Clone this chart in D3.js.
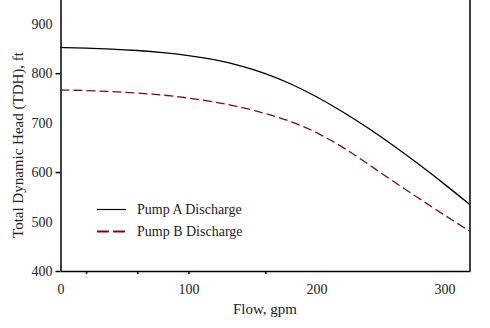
<!DOCTYPE html>
<html>
<head>
<meta charset="utf-8">
<script src="https://d3js.org/d3.v7.min.js"></script>
<style>
  body { margin: 0; background: #fff; }
  .axis path, .axis line { stroke: #000; stroke-width: 1.5; }
</style>
</head>
<body>
<script type="text/javascript">

  var flow = [0, 20, 40, 60, 80, 100, 120, 140, 160, 180, 200, 220, 240, 260, 280, 300, 320];
  var pumpA = [852, 851, 849, 846, 842, 836, 828, 816, 800, 779, 753, 723, 690, 654, 616, 576, 534];
  var pumpB = [766, 765, 763, 760, 756, 750, 742, 732, 719, 703, 681, 652, 617, 581, 547, 513, 480];
  var yTicks = [400, 500, 600, 700, 800, 900];
  var yMarks = [400, 600, 800];
  var xTicks = [0, 100, 200, 300];
  var xMarks = [20, 60, 100, 160];
  var seriesNames = ["Pump A Discharge", "Pump B Discharge"];

  var w = 490, h = 328;
  var serif = "'Liberation Serif', 'Times New Roman', serif";

  var svg = d3.select("body").append("svg")
      .attr("width", w)
      .attr("height", h);

  var x = d3.scaleLinear().domain([0, 320]).range([60.5, 470]);
  var y = d3.scaleLinear().domain([400, 950]).range([271, -1]);

  function serifText(sel, size) {
    sel.style("font-family", serif).style("font-size", size).attr("fill", "#222");
  }

  // y labels (no tick marks), then tick marks only where the original has them
  svg.append("g")
      .attr("class", "axis")
      .attr("transform", "translate(60.5,0)")
      .call(d3.axisLeft(y).tickValues(yTicks).tickSize(0).tickPadding(8))
      .call(function(g) { g.select(".domain").remove(); })
      .selectAll("text").call(serifText, "14px");

  svg.append("g")
      .attr("class", "axis")
      .attr("transform", "translate(60.5,0)")
      .call(d3.axisLeft(y).tickValues(yMarks).tickSize(5).tickSizeOuter(0).tickFormat(""));

  svg.append("g")
      .attr("class", "axis")
      .attr("transform", "translate(0,271)")
      .call(d3.axisBottom(x).tickValues(xTicks).tickSize(0).tickPadding(13))
      .call(function(g) { g.select(".domain").remove(); })
      .selectAll("text").call(serifText, "14px");

  svg.append("g")
      .attr("class", "axis")
      .attr("transform", "translate(0,271)")
      .call(d3.axisBottom(x).tickValues(xMarks).tickSize(3).tickSizeOuter(0).tickFormat(""));

  // right frame line
  svg.append("line")
      .attr("x1", x(320)).attr("x2", x(320))
      .attr("y1", y(950)).attr("y2", y(400))
      .attr("stroke", "#000").attr("stroke-width", 1.5);

  var line = d3.line()
      .x(function(d) { return x(d[0]); })
      .y(function(d) { return y(d[1]); })
      .curve(d3.curveBasis);

  svg.append("path")
      .datum(d3.zip(flow, pumpA))
      .attr("fill", "none")
      .attr("stroke", "#000")
      .attr("stroke-width", 1.3)
      .attr("d", line);

  svg.append("path")
      .datum(d3.zip(flow, pumpB))
      .attr("fill", "none")
      .attr("stroke", "#7a0c0c")
      .attr("stroke-width", 1.3)
      .attr("stroke-dasharray", "9,4")
      .attr("d", line);

  // legend
  var legend = svg.append("g");
  legend.append("line")
      .attr("x1", 97).attr("x2", 126).attr("y1", 209.5).attr("y2", 209.5)
      .attr("stroke", "#000").attr("stroke-width", 1.2);
  legend.append("line")
      .attr("x1", 97).attr("x2", 127).attr("y1", 231.5).attr("y2", 231.5)
      .attr("stroke", "#7a0c0c").attr("stroke-width", 2)
      .attr("stroke-dasharray", "12,4");
  legend.selectAll("text.lg")
      .data(seriesNames)
      .enter().append("text")
      .attr("class", "lg")
      .attr("x", 137)
      .attr("y", function(d, i) { return 214 + i * 22; })
      .call(serifText, "14px")
      .text(function(d) { return d; });

  // axis titles
  svg.append("text")
      .attr("x", 265)
      .attr("y", 314)
      .attr("text-anchor", "middle")
      .call(serifText, "15px")
      .text("Flow, gpm");

  svg.append("text")
      .attr("transform", "translate(23,145) rotate(-90)")
      .attr("text-anchor", "middle")
      .call(serifText, "15px")
      .text("Total Dynamic Head (TDH), ft");

</script>
</body>
</html>
